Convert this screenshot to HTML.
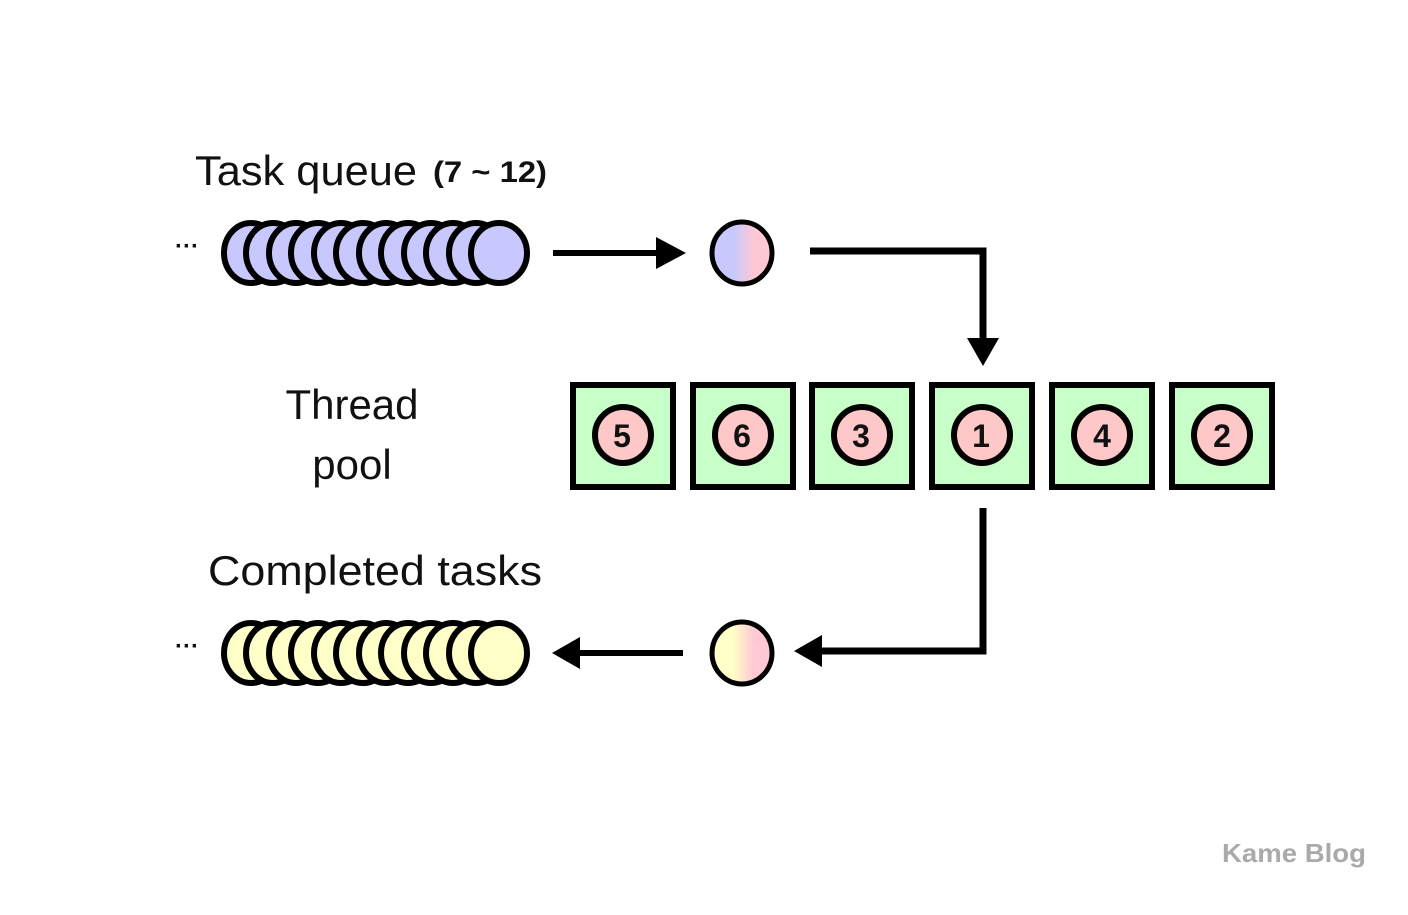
<!DOCTYPE html>
<html><head><meta charset="utf-8"><style>
html,body{margin:0;padding:0;background:#fff;}
svg{display:block;}
text{font-family:"Liberation Sans",sans-serif;}
</style></head><body>
<svg width="1408" height="915" viewBox="0 0 1408 915" xmlns="http://www.w3.org/2000/svg">
<defs>
<linearGradient id="g1" x1="0" x2="1" y1="0" y2="0">
<stop offset="0.35" stop-color="#c8c8ff"/><stop offset="0.7" stop-color="#ffc8d4"/>
</linearGradient>
<linearGradient id="g2" x1="0" x2="1" y1="0" y2="0">
<stop offset="0.35" stop-color="#ffffc8"/><stop offset="0.7" stop-color="#ffc8d4"/>
</linearGradient>
</defs>

<text x="195" y="185" font-size="42" fill="#111" textLength="222" lengthAdjust="spacingAndGlyphs">Task queue</text>
<text x="433" y="182" font-size="30" font-weight="bold" fill="#111" textLength="114" lengthAdjust="spacingAndGlyphs">(7 ~ 12)</text>

<text x="175" y="254" font-size="24" font-weight="bold" fill="#111">···</text>
<g fill="#c8c8ff" stroke="#000" stroke-width="6">
<ellipse cx="251" cy="253" rx="27" ry="30"/>
<ellipse cx="273" cy="253" rx="27" ry="30"/>
<ellipse cx="296" cy="253" rx="27" ry="30"/>
<ellipse cx="318" cy="253" rx="27" ry="30"/>
<ellipse cx="341" cy="253" rx="27" ry="30"/>
<ellipse cx="363" cy="253" rx="27" ry="30"/>
<ellipse cx="386" cy="253" rx="27" ry="30"/>
<ellipse cx="408" cy="253" rx="27" ry="30"/>
<ellipse cx="431" cy="253" rx="27" ry="30"/>
<ellipse cx="453" cy="253" rx="27" ry="30"/>
<ellipse cx="476" cy="253" rx="27" ry="30"/>
<ellipse cx="499" cy="253" rx="28" ry="30"/>
</g>

<line x1="553" y1="253" x2="662" y2="253" stroke="#000" stroke-width="6"/>
<polygon points="656,237 686,253 656,269" fill="#000"/>
<ellipse cx="742" cy="253" rx="30" ry="31" fill="url(#g1)" stroke="#000" stroke-width="5"/>

<polyline points="810,251 983,251 983,342" fill="none" stroke="#000" stroke-width="7"/>
<polygon points="967,338 999,338 983,366" fill="#000"/>

<text x="352" y="419" font-size="42" fill="#111" text-anchor="middle">Thread</text>
<text x="352" y="479" font-size="42" fill="#111" text-anchor="middle">pool</text>

<g stroke="#000">
<g transform="translate(570,382)"><rect x="3" y="3" width="100" height="102" fill="#c8ffc8" stroke-width="6"/><circle cx="53" cy="53" r="28" fill="#ffc8c8" stroke-width="6"/></g>
<g transform="translate(690,382)"><rect x="3" y="3" width="100" height="102" fill="#c8ffc8" stroke-width="6"/><circle cx="53" cy="53" r="28" fill="#ffc8c8" stroke-width="6"/></g>
<g transform="translate(809,382)"><rect x="3" y="3" width="100" height="102" fill="#c8ffc8" stroke-width="6"/><circle cx="53" cy="53" r="28" fill="#ffc8c8" stroke-width="6"/></g>
<g transform="translate(929,382)"><rect x="3" y="3" width="100" height="102" fill="#c8ffc8" stroke-width="6"/><circle cx="53" cy="53" r="28" fill="#ffc8c8" stroke-width="6"/></g>
<g transform="translate(1049,382)"><rect x="3" y="3" width="100" height="102" fill="#c8ffc8" stroke-width="6"/><circle cx="53" cy="53" r="28" fill="#ffc8c8" stroke-width="6"/></g>
<g transform="translate(1169,382)"><rect x="3" y="3" width="100" height="102" fill="#c8ffc8" stroke-width="6"/><circle cx="53" cy="53" r="28" fill="#ffc8c8" stroke-width="6"/></g>
</g>
<g font-size="32" font-weight="bold" fill="#111" text-anchor="middle">
<text x="622" y="447">5</text>
<text x="742" y="447">6</text>
<text x="861" y="447">3</text>
<text x="981" y="447">1</text>
<text x="1102" y="447">4</text>
<text x="1222" y="447">2</text>
</g>

<polyline points="983,508 983,651 818,651" fill="none" stroke="#000" stroke-width="7"/>
<polygon points="822,635 822,667 794,651" fill="#000"/>

<text x="208" y="585" font-size="42" fill="#111" textLength="334" lengthAdjust="spacingAndGlyphs">Completed tasks</text>

<ellipse cx="742" cy="653" rx="30" ry="31" fill="url(#g2)" stroke="#000" stroke-width="5"/>
<line x1="683" y1="653" x2="574" y2="653" stroke="#000" stroke-width="6"/>
<polygon points="580,637 552,653 580,669" fill="#000"/>

<text x="175" y="654" font-size="24" font-weight="bold" fill="#111">···</text>
<g fill="#ffffc8" stroke="#000" stroke-width="6">
<ellipse cx="251" cy="653" rx="27" ry="30"/>
<ellipse cx="273" cy="653" rx="27" ry="30"/>
<ellipse cx="296" cy="653" rx="27" ry="30"/>
<ellipse cx="318" cy="653" rx="27" ry="30"/>
<ellipse cx="341" cy="653" rx="27" ry="30"/>
<ellipse cx="363" cy="653" rx="27" ry="30"/>
<ellipse cx="386" cy="653" rx="27" ry="30"/>
<ellipse cx="408" cy="653" rx="27" ry="30"/>
<ellipse cx="431" cy="653" rx="27" ry="30"/>
<ellipse cx="453" cy="653" rx="27" ry="30"/>
<ellipse cx="476" cy="653" rx="27" ry="30"/>
<ellipse cx="499" cy="653" rx="28" ry="30"/>
</g>

<text x="1222" y="862" font-size="26" font-weight="bold" fill="#aaa" textLength="144" lengthAdjust="spacingAndGlyphs">Kame Blog</text>
</svg>
</body></html>
